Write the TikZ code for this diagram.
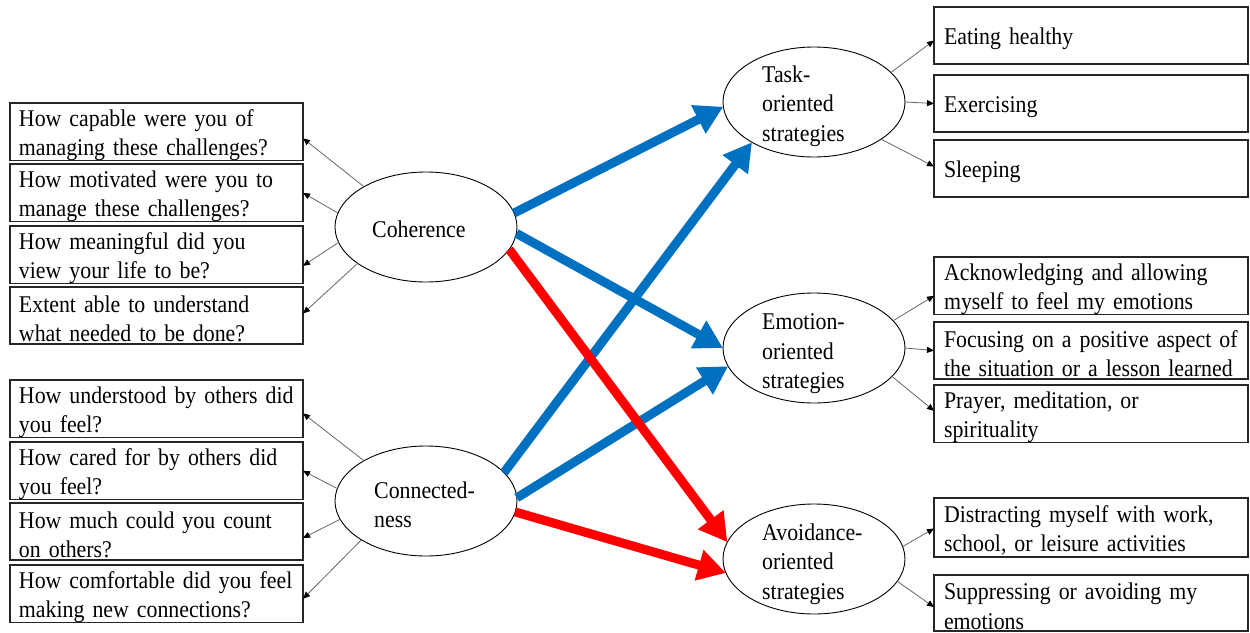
\documentclass[tikz,border=0pt]{standalone}
\usepackage{fontspec}
\setmainfont[FakeStretch=0.91]{Liberation Serif}
\usetikzlibrary{arrows.meta,shapes.geometric}
\definecolor{cblue}{RGB}{0,112,192}
\definecolor{cred}{RGB}{255,0,0}
\newcommand{\boxstrut}{\rule{0pt}{23pt}}
\begin{document}
\begin{tikzpicture}[x=1pt,y=-1pt,
  lbox/.style={draw=black!85, line width=1.2pt, rectangle, inner xsep=9pt, inner ysep=0pt,
    minimum height=57pt, text width=275pt, align=left, anchor=north west, outer sep=0pt,
    font=\fontsize{24}{29.5}\selectfont},
  rbox/.style={lbox, text width=294pt, inner xsep=10pt},
  ell/.style={draw, ellipse, line width=0.9pt, minimum width=182pt, minimum height=110pt,
    inner sep=0pt, outer sep=0pt},
  lbl/.style={font=\fontsize{24}{29.5}\selectfont, align=left, inner sep=0pt, anchor=west},
  thinarr/.style={draw=black!60, line width=0.8pt, -{Triangle[length=7pt,width=6pt,color=black]}},
  bluearr/.style={draw=cblue, line width=9pt, -{Triangle[length=28pt,width=30pt]}},
  redarr/.style={draw=cred, line width=9pt, -{Triangle[length=28pt,width=30pt]}}
]
\useasboundingbox (0,0) rectangle (1250,632);

% left boxes
\node[lbox] (b1) at (10,103) {\boxstrut How capable were you of\\managing these challenges?};
\node[lbox] (b2) at (10,164) {\boxstrut How motivated were you to\\manage these challenges?};
\node[lbox] (b3) at (10,226) {\boxstrut How meaningful did you\\view your life to be?};
\node[lbox] (b4) at (10,287) {\boxstrut Extent able to understand\\what needed to be done?};
\node[lbox] (b5) at (10,380) {\boxstrut How understood by others did\\you feel?};
\node[lbox] (b6) at (10,442) {\boxstrut How cared for by others did\\you feel?};
\node[lbox] (b7) at (10,503) {\boxstrut How much could you count\\on others?};
\node[lbox] (b8) at (10,565) {\boxstrut How comfortable did you feel\\making new connections?};

% right boxes
\node[rbox] (r1) at (934,7) {\boxstrut Eating healthy};
\node[rbox] (r2) at (934,75) {\boxstrut Exercising};
\node[rbox] (r3) at (934,140) {\boxstrut Sleeping};
\node[rbox] (r4) at (934,257) {\boxstrut Acknowledging and allowing\\myself to feel my emotions};
\node[rbox] (r5) at (934,322) {\boxstrut Focusing on a positive aspect of\\the situation or a lesson learned};
\node[rbox] (r6) at (934,385) {\boxstrut Prayer, meditation, or\\spirituality};
\node[rbox, minimum height=59pt] (r7) at (934,498) {\boxstrut Distracting myself with work,\\school, or leisure activities};
\node[rbox, minimum height=56pt] (r8) at (934,575) {\boxstrut Suppressing or avoiding my\\emotions};

% ellipses
\node[ell] (coh) at (426,227) {};
\node[ell] (con) at (426,501) {};
\node[ell] (task) at (814,102) {};
\node[ell] (emo) at (814,348) {};
\node[ell] (avo) at (814,559) {};

\node[lbl] (tcoh) at (372,229) {Coherence};
\node[lbl] (tcon) at (374,505) {Connected-\\ness};
\node[lbl] (ttask) at (762,106) {Task-\\oriented\\strategies};
\node[lbl] (temo) at (762,354) {Emotion-\\oriented\\strategies};
\node[lbl] (tavo) at (762,564) {Avoidance-\\oriented\\strategies};

% thin arrows left
\draw[thinarr] (coh.147) -- ([yshift=-6.5pt]b1.east);
\draw[thinarr] (coh.171) -- (b2.east);
\draw[thinarr] (coh.190) -- ([yshift=-11pt]b3.east);
\draw[thinarr] (coh.208) -- ([yshift=2pt]b4.east);
\draw[thinarr] (con.147) -- ([yshift=-4.5pt]b5.east);
\draw[thinarr] (con.172) -- (b6.east);
\draw[thinarr] (con.192) -- ([yshift=-6.5pt]b7.east);
\draw[thinarr] (con.211) -- ([yshift=-5pt]b8.east);

% thin arrows right
\draw[thinarr] (task.21) -- ([yshift=-5pt]r1.west);
\draw[thinarr] (task.0) -- (r2.west);
\draw[thinarr] (task.-29) -- ([yshift=2pt]r3.west);
\draw[thinarr] (emo.19) -- ([yshift=-10pt]r4.west);
\draw[thinarr] (emo.0) -- (r5.west);
\draw[thinarr] (emo.-20) -- ([yshift=3pt]r6.west);
\draw[thinarr] (avo.8) -- ([yshift=-1pt]r7.west);
\draw[thinarr] (avo.-15) -- ([yshift=-4pt]r8.west);

% thick arrows
\draw[bluearr] (coh.9) -- (task.183);
\draw[bluearr] (con.20) -- (task.213);
\draw[bluearr] (coh.-4) -- (emo.180);
\draw[bluearr] (con.2) -- (emo.192);
\draw[redarr] (coh.-15) -- (avo.169);
\draw[redarr] (con.-7) -- (avo.189);
\end{tikzpicture}
\end{document}
